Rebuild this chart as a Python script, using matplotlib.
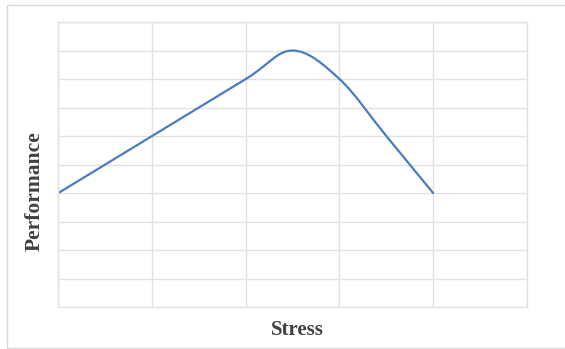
import matplotlib
matplotlib.use('Agg')
import matplotlib.pyplot as plt
from matplotlib.path import Path
from matplotlib.patches import PathPatch, Rectangle

# stress vs performance (inverted U)
stress = [0, 1, 2, 2.5, 3, 3.5, 4]
performance = [4, 6, 8, 9, 8, 6, 4]
x_ticks = [0, 1, 2, 3, 4, 5]
y_ticks = [0, 1, 2, 3, 4, 5, 6, 7, 8, 9, 10]

grid_color = '#e2e2e2'
line_color = '#4a7cbf'
text_color = '#404040'


def smooth_path(xs, ys):
    # excel style smoothing: catmull-rom turned into cubic beziers
    pts = list(zip(xs, ys))
    n = len(pts)
    verts = [pts[0]]
    codes = [Path.MOVETO]
    for i in range(n - 1):
        p0 = pts[i - 1] if i > 0 else pts[i]
        p1 = pts[i]
        p2 = pts[i + 1]
        p3 = pts[i + 2] if i + 2 < n else pts[i + 1]
        c1 = (p1[0] + (p2[0] - p0[0]) / 6, p1[1] + (p2[1] - p0[1]) / 6)
        c2 = (p2[0] - (p3[0] - p1[0]) / 6, p2[1] - (p3[1] - p1[1]) / 6)
        verts += [c1, c2, p2]
        codes += [Path.CURVE4] * 3
    return Path(verts, codes)


fig = plt.figure(figsize=(5.65, 3.49), dpi=100)
ax = fig.add_axes([58.4 / 565, 42 / 349, 468.4 / 565, 285 / 349])

ax.set_xlim(x_ticks[0], x_ticks[-1])
ax.set_ylim(y_ticks[0], y_ticks[-1])
ax.set_xticks(x_ticks)
ax.set_yticks(y_ticks)
ax.tick_params(length=0, labelbottom=False, labelleft=False)
ax.grid(True, color=grid_color, linewidth=1)
ax.set_axisbelow(True)
for s in ax.spines.values():
    s.set_color(grid_color)
    s.set_linewidth(1)

ax.add_patch(PathPatch(smooth_path(stress, performance), fill=False,
                       edgecolor=line_color, linewidth=1.6, capstyle='round'))

fig.text(297 / 565, 1 - 330 / 349, 'Stress', ha='center', va='center',
         family='Liberation Serif', fontweight='bold', fontsize=15, color=text_color)
fig.text(35 / 565, 1 - 191 / 349, 'Performance', ha='center', va='center', rotation=90,
         family='Liberation Serif', fontweight='bold', fontsize=15.5, color=text_color)

# chart area border
fig.patches.append(Rectangle((7 / 565, 1 - 348 / 349), 1.0, 343 / 349, transform=fig.transFigure,
                             fill=False, edgecolor='#d9d9d9', linewidth=1))

fig.savefig('out.png', dpi=100)
